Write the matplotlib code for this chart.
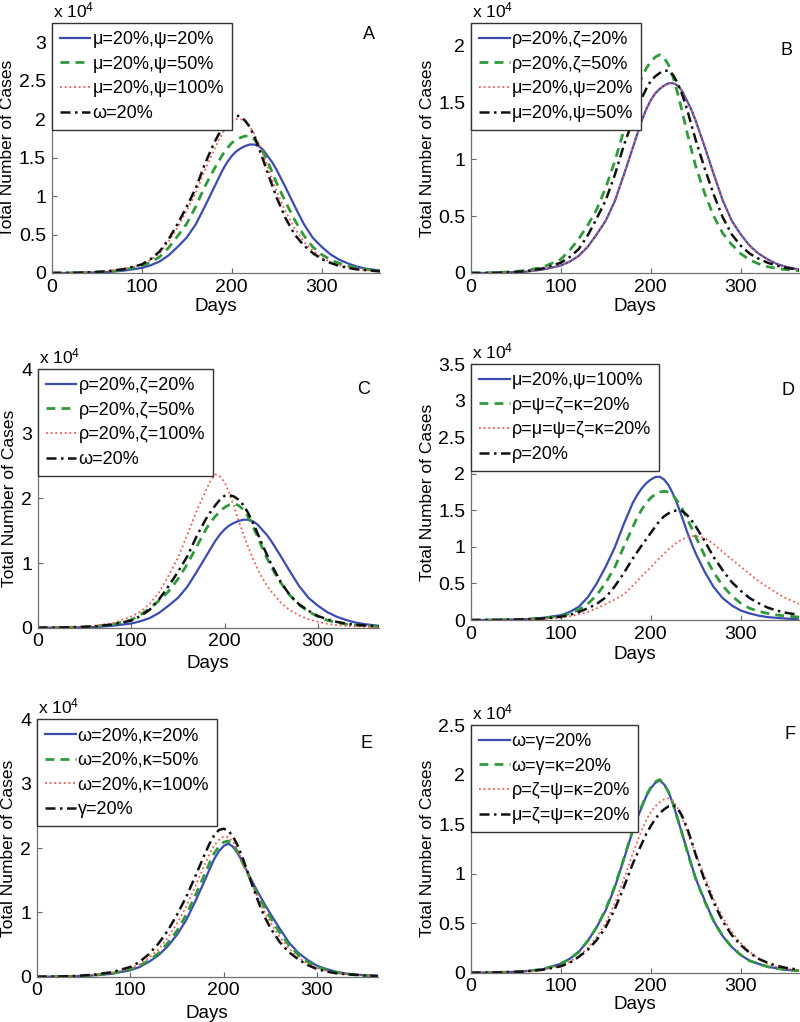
import matplotlib
matplotlib.use("Agg")
import matplotlib.pyplot as plt
from matplotlib.ticker import FuncFormatter

plt.rcParams["font.family"] = ["Liberation Sans", "DejaVu Sans"]
plt.rcParams["mathtext.default"] = "regular"

# ── data (total cases, units of 10^4) ──────────────────────────────────────
days = [0, 20, 40, 60, 80, 100, 110, 120, 130, 140, 150, 160, 170,
        180, 185, 190, 195, 200, 205, 210, 215, 220, 225, 230, 235, 240, 245, 250,
        260, 270, 280, 290, 300, 310, 320, 330, 340, 350, 365]

a_blue = [0, 0, 0.005, 0.01, 0.03, 0.065, 0.10, 0.15, 0.23, 0.34, 0.46, 0.63, 0.86,
          1.10, 1.22, 1.34, 1.44, 1.52, 1.58, 1.62, 1.65, 1.67, 1.67, 1.65, 1.60, 1.52, 1.44, 1.34,
          1.11, 0.87, 0.64, 0.46, 0.34, 0.24, 0.17, 0.12, 0.08, 0.055, 0.03]
a_green = [0, 0, 0.005, 0.015, 0.04, 0.09, 0.14, 0.21, 0.33, 0.48, 0.64, 0.86, 1.12,
           1.34, 1.44, 1.54, 1.62, 1.69, 1.73, 1.76, 1.78, 1.78, 1.74, 1.67, 1.57, 1.45, 1.31, 1.17,
           0.92, 0.69, 0.49, 0.34, 0.24, 0.17, 0.125, 0.09, 0.065, 0.045, 0.03]
a_red = [0, 0.002, 0.008, 0.02, 0.05, 0.11, 0.17, 0.26, 0.41, 0.60, 0.81, 1.04, 1.33,
         1.59, 1.71, 1.82, 1.91, 1.97, 2.00, 2.00, 1.97, 1.91, 1.81, 1.68, 1.54, 1.38, 1.22, 1.06,
         0.80, 0.58, 0.41, 0.29, 0.20, 0.14, 0.10, 0.07, 0.05, 0.035, 0.02]
a_black = [0, 0.002, 0.008, 0.02, 0.05, 0.11, 0.18, 0.28, 0.44, 0.64, 0.86, 1.10, 1.41,
           1.68, 1.79, 1.89, 1.98, 2.04, 2.05, 2.03, 1.98, 1.90, 1.78, 1.63, 1.47, 1.30, 1.14, 0.98,
           0.71, 0.50, 0.36, 0.26, 0.18, 0.13, 0.09, 0.065, 0.045, 0.035, 0.02]
b_green = [0, 0.002, 0.008, 0.02, 0.05, 0.12, 0.20, 0.30, 0.42, 0.56, 0.75, 0.98, 1.25,
           1.52, 1.63, 1.72, 1.80, 1.86, 1.90, 1.92, 1.89, 1.83, 1.72, 1.58, 1.42, 1.25, 1.09, 0.94,
           0.70, 0.50, 0.35, 0.25, 0.17, 0.115, 0.08, 0.055, 0.04, 0.03, 0.02]
c_red = [0, 0.003, 0.01, 0.03, 0.07, 0.17, 0.25, 0.37, 0.55, 0.80, 1.08, 1.43, 1.80,
         2.12, 2.27, 2.37, 2.34, 2.25, 2.08, 1.88, 1.66, 1.45, 1.26, 1.08, 0.92, 0.78, 0.66, 0.56,
         0.39, 0.27, 0.19, 0.13, 0.09, 0.06, 0.04, 0.03, 0.02, 0.015, 0.01]
d_blue = [0, 0.001, 0.005, 0.01, 0.03, 0.065, 0.11, 0.18, 0.31, 0.50, 0.73, 0.99, 1.31,
          1.60, 1.71, 1.80, 1.87, 1.92, 1.955, 1.96, 1.92, 1.84, 1.72, 1.57, 1.40, 1.22, 1.06, 0.91,
          0.66, 0.45, 0.30, 0.20, 0.13, 0.09, 0.06, 0.04, 0.03, 0.02, 0.01]
d_green = [0, 0.001, 0.005, 0.01, 0.025, 0.055, 0.09, 0.14, 0.22, 0.34, 0.51, 0.72, 1.00,
           1.27, 1.40, 1.51, 1.60, 1.67, 1.72, 1.75, 1.76, 1.75, 1.70, 1.62, 1.52, 1.40, 1.27, 1.14,
           0.88, 0.65, 0.47, 0.33, 0.23, 0.16, 0.12, 0.09, 0.07, 0.055, 0.04]
d_red = [0, 0.001, 0.003, 0.007, 0.015, 0.03, 0.05, 0.08, 0.11, 0.16, 0.22, 0.28, 0.35,
         0.47, 0.535, 0.60, 0.66, 0.72, 0.785, 0.85, 0.91, 0.97, 1.02, 1.07, 1.10, 1.13, 1.145, 1.15,
         1.12, 1.04, 0.93, 0.83, 0.73, 0.63, 0.53, 0.45, 0.37, 0.30, 0.22]
d_black = [0, 0.001, 0.004, 0.01, 0.02, 0.045, 0.07, 0.11, 0.16, 0.22, 0.31, 0.46, 0.64,
           0.84, 0.93, 1.02, 1.105, 1.19, 1.275, 1.36, 1.42, 1.46, 1.49, 1.50, 1.49, 1.44, 1.37, 1.28,
           1.08, 0.86, 0.68, 0.52, 0.40, 0.30, 0.23, 0.17, 0.13, 0.10, 0.07]
e_blue = [0, 0.002, 0.007, 0.02, 0.045, 0.10, 0.15, 0.23, 0.33, 0.47, 0.65, 0.88, 1.18,
          1.50, 1.67, 1.83, 1.95, 2.03, 2.07, 2.02, 1.92, 1.79, 1.64, 1.50, 1.36, 1.23, 1.10, 0.98,
          0.75, 0.53, 0.37, 0.26, 0.17, 0.12, 0.08, 0.05, 0.035, 0.025, 0.015]
e_green = [0, 0.002, 0.008, 0.022, 0.05, 0.11, 0.17, 0.25, 0.36, 0.52, 0.71, 0.96, 1.27,
           1.60, 1.77, 1.92, 2.02, 2.09, 2.11, 2.06, 1.94, 1.78, 1.63, 1.47, 1.32, 1.18, 1.05, 0.92,
           0.69, 0.49, 0.34, 0.23, 0.155, 0.105, 0.07, 0.045, 0.03, 0.02, 0.012]
e_red = [0, 0.002, 0.009, 0.025, 0.06, 0.13, 0.19, 0.29, 0.42, 0.60, 0.82, 1.09, 1.41,
         1.75, 1.91, 2.04, 2.13, 2.18, 2.17, 2.10, 1.97, 1.80, 1.63, 1.45, 1.28, 1.12, 0.98, 0.85,
         0.62, 0.44, 0.30, 0.20, 0.135, 0.09, 0.06, 0.04, 0.028, 0.02, 0.01]
e_black = [0, 0.003, 0.01, 0.03, 0.07, 0.15, 0.23, 0.35, 0.51, 0.71, 0.96, 1.24, 1.57,
           1.91, 2.07, 2.20, 2.28, 2.30, 2.27, 2.18, 2.04, 1.86, 1.66, 1.45, 1.25, 1.06, 0.90, 0.76,
           0.54, 0.38, 0.27, 0.18, 0.12, 0.08, 0.055, 0.04, 0.03, 0.02, 0.01]
f_blue = [0, 0.002, 0.006, 0.015, 0.035, 0.09, 0.14, 0.21, 0.32, 0.46, 0.63, 0.86, 1.14,
          1.43, 1.56, 1.67, 1.78, 1.86, 1.915, 1.94, 1.90, 1.82, 1.70, 1.55, 1.40, 1.25, 1.10, 0.95,
          0.73, 0.52, 0.37, 0.26, 0.18, 0.12, 0.09, 0.06, 0.045, 0.03, 0.02]
f_green = [0, 0.002, 0.006, 0.015, 0.035, 0.09, 0.14, 0.21, 0.32, 0.46, 0.64, 0.87, 1.15,
           1.44, 1.57, 1.68, 1.79, 1.87, 1.925, 1.95, 1.90, 1.82, 1.70, 1.55, 1.40, 1.24, 1.09, 0.95,
           0.72, 0.52, 0.37, 0.26, 0.18, 0.12, 0.09, 0.06, 0.045, 0.03, 0.02]
f_red = [0, 0.002, 0.005, 0.013, 0.03, 0.07, 0.11, 0.17, 0.25, 0.36, 0.50, 0.70, 0.94,
         1.20, 1.32, 1.44, 1.54, 1.62, 1.68, 1.72, 1.75, 1.76, 1.73, 1.66, 1.56, 1.44, 1.32, 1.20,
         0.97, 0.74, 0.56, 0.41, 0.30, 0.21, 0.14, 0.09, 0.06, 0.04, 0.025]
f_black = [0, 0.002, 0.005, 0.012, 0.03, 0.065, 0.10, 0.16, 0.23, 0.33, 0.46, 0.64, 0.86,
           1.10, 1.20, 1.30, 1.40, 1.48, 1.55, 1.61, 1.65, 1.68, 1.69, 1.66, 1.58, 1.47, 1.34, 1.19,
           0.93, 0.71, 0.52, 0.38, 0.28, 0.20, 0.14, 0.10, 0.07, 0.05, 0.03]

labels_a = ["μ=20%,ψ=20%", "μ=20%,ψ=50%", "μ=20%,ψ=100%", "ω=20%"]
labels_b = ["ρ=20%,ζ=20%", "ρ=20%,ζ=50%", "μ=20%,ψ=20%", "μ=20%,ψ=50%"]
labels_c = ["ρ=20%,ζ=20%", "ρ=20%,ζ=50%", "ρ=20%,ζ=100%", "ω=20%"]
labels_d = ["μ=20%,ψ=100%", "ρ=ψ=ζ=κ=20%", "ρ=μ=ψ=ζ=κ=20%", "ρ=20%"]
labels_e = ["ω=20%,κ=20%", "ω=20%,κ=50%", "ω=20%,κ=100%", "γ=20%"]
labels_f = ["ω=γ=20%", "ω=γ=κ=20%", "ρ=ζ=ψ=κ=20%", "μ=ζ=ψ=κ=20%"]

# ── styles ────────────────────────────────────────────────────────────────
BLUE, GREEN, RED, BLACK = "#3a4cb2", "#2f9a3c", "#ee5a55", "#111111"
styles = [
    dict(color=BLUE, ls="-", lw=1.6),
    dict(color=GREEN, ls=(0, (3.2, 2.2)), lw=2.0),
    dict(color=RED, ls=(0, (1, 1.6)), lw=1.3),
    dict(color=BLACK, ls=(0, (4, 1.8, 1, 1.8)), lw=1.8),
]

panels = [
    # letter, rect, ymax, yticks, curves, labels, letter pos, ylabel x, xlabel y
    ("A", [0.0646, 0.7329, 0.4106, 0.2446], 3.25, [0, 0.5, 1, 1.5, 2, 2.5, 3],
     [a_blue, a_green, a_red, a_black], labels_a, (0.965, 0.955), -0.113, -0.10),
    ("B", [0.5884, 0.7329, 0.4106, 0.2446], 2.2, [0, 0.5, 1, 1.5, 2],
     [a_blue, b_green, a_blue, a_green], labels_b, (0.962, 0.89), -0.109, -0.10),
    ("C", [0.0471, 0.3858, 0.4263, 0.2531], 4, [0, 1, 2, 3, 4],
     [a_blue, b_green, c_red, a_black], labels_c, (0.957, 0.92), -0.062, -0.106),
    ("D", [0.5884, 0.3933, 0.4106, 0.2505], 3.5, [0, 0.5, 1, 1.5, 2, 2.5, 3, 3.5],
     [d_blue, d_green, d_red, d_black], labels_d, (0.967, 0.895), -0.109, -0.10),
    ("E", [0.0459, 0.0443, 0.4263, 0.2519], 4, [0, 1, 2, 3, 4],
     [e_blue, e_green, e_red, e_black], labels_e, (0.967, 0.907), -0.062, -0.11),
    ("F", [0.5884, 0.0482, 0.4106, 0.2424], 2.5, [0, 0.5, 1, 1.5, 2, 2.5],
     [f_blue, f_green, f_red, f_black], labels_f, (0.972, 0.96), -0.109, -0.094),
]

fig = plt.figure(figsize=(8, 10.22), dpi=100)
fmt = FuncFormatter(lambda v, p: f"{v:g}")

for letter, rect, ymax, yticks, curves, labels, lpos, ylab_x, xlab_y in panels:
    ax = fig.add_axes(rect)
    for vals, lab, st in zip(curves, labels, styles):
        ax.plot(days, vals, label=lab, **st)
    ax.set_xlim(0, 365)
    ax.set_ylim(0, ymax)
    ax.set_xticks([0, 100, 200, 300])
    ax.set_yticks(yticks)
    ax.yaxis.set_major_formatter(fmt)
    ax.tick_params(direction="in", length=3.5, width=0.8, color="#666666",
                   labelsize=14, pad=4)
    ax.spines[["top", "right"]].set_visible(False)
    for s in ("left", "bottom"):
        ax.spines[s].set_color("#707070")
        ax.spines[s].set_linewidth(0.9)
    ax.set_xlabel("Days", fontsize=13.5)
    ax.set_ylabel("Total Number of Cases", fontsize=12.5)
    ax.xaxis.set_label_coords(0.5, xlab_y)
    ax.yaxis.set_label_coords(ylab_x, 0.5)
    ax.text(0.005, 1.012, r"x 10$^{4}$", transform=ax.transAxes,
            ha="left", va="bottom", fontsize=12.5)
    ax.text(lpos[0], lpos[1], letter, transform=ax.transAxes,
            ha="center", va="center", fontsize=13)
    leg = ax.legend(loc="upper left", borderaxespad=0, fontsize=13,
                    handlelength=1.7, handletextpad=0.12, labelspacing=0.42,
                    borderpad=0.45, fancybox=False, framealpha=1)
    leg.get_frame().set_edgecolor("#333333")
    leg.get_frame().set_linewidth(1.0)

plt.savefig("out.png", dpi=100)
plt.close()
